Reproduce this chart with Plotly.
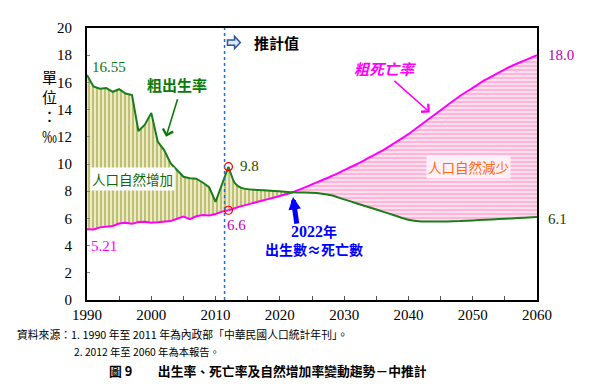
import plotly.graph_objects as go

# ---- data ----
hist_years = list(range(1990, 2013))
hist_birth = [16.55, 15.70, 15.53, 15.58, 15.31, 15.50, 15.18, 15.07, 12.43, 12.89, 13.76,
              11.65, 11.02, 10.06, 9.56, 9.06, 8.96, 8.92, 8.64, 8.29, 7.21, 8.48, 9.80]
hist_death = [5.21, 5.19, 5.34, 5.37, 5.44, 5.62, 5.68, 5.60, 5.73, 5.75, 5.68,
              5.71, 5.74, 5.80, 5.97, 6.13, 5.95, 6.16, 6.25, 6.21, 6.32, 6.50, 6.60]

proj_years = [2012, 2013, 2014, 2016, 2018, 2020, 2022, 2024, 2026, 2028, 2030, 2032, 2034,
              2036, 2038, 2040, 2042, 2044, 2046, 2048, 2050, 2052, 2054, 2056, 2058, 2060]
proj_birth = [9.80, 8.60, 8.25, 8.10, 8.05, 8.00, 7.92, 7.90, 7.85, 7.70, 7.40, 7.10, 6.80,
              6.50, 6.20, 5.90, 5.78, 5.77, 5.78, 5.80, 5.85, 5.90, 5.95, 6.00, 6.05, 6.10]
proj_death = [6.60, 6.75, 6.90, 7.15, 7.40, 7.65, 7.92, 8.30, 8.70, 9.10, 9.55, 10.00, 10.50,
              11.00, 11.60, 12.20, 12.90, 13.60, 14.30, 15.00, 15.60, 16.20, 16.70, 17.20, 17.60, 18.00]

x_ticks = [1990, 1995, 2000, 2005, 2010, 2015, 2020, 2025, 2030, 2035, 2040, 2045, 2050, 2055, 2060]
x_tick_text = ["1990", "", "2000", "", "2010", "", "2020", "", "2030", "", "2040", "", "2050", "", "2060"]
y_ticks = [0, 2, 4, 6, 8, 10, 12, 14, 16, 18, 20]

cross_year = 2022
split = proj_years.index(cross_year)

GREEN = "#1a7d1a"
MAGENTA = "#ff00ff"
SERIF = "Liberation Serif, Times New Roman, serif"
CJK = "Noto Sans CJK TC, sans-serif"

olive_pat = dict(shape="|", fgcolor="#7a7a00", bgcolor="#ececc4", size=4, solidity=0.4)
pink_pat = dict(shape="-", fgcolor="#ff7fc0", bgcolor="#ffe0ef", size=4, solidity=0.45)

fig = go.Figure()

# fills: natural increase (historical)
fig.add_trace(go.Scatter(x=hist_years, y=hist_death, mode="lines", line=dict(width=0),
                         hoverinfo="skip", showlegend=False))
fig.add_trace(go.Scatter(x=hist_years, y=hist_birth, mode="lines", line=dict(width=0),
                         fill="tonexty", fillpattern=olive_pat, hoverinfo="skip", showlegend=False))
# fills: natural increase (projection up to crossing)
fig.add_trace(go.Scatter(x=proj_years[:split + 1], y=proj_death[:split + 1], mode="lines",
                         line=dict(width=0, shape="spline", smoothing=0.6), hoverinfo="skip", showlegend=False))
fig.add_trace(go.Scatter(x=proj_years[:split + 1], y=proj_birth[:split + 1], mode="lines",
                         line=dict(width=0, shape="spline", smoothing=0.6), fill="tonexty",
                         fillpattern=olive_pat, hoverinfo="skip", showlegend=False))
# fills: natural decrease
fig.add_trace(go.Scatter(x=proj_years[split:], y=proj_birth[split:], mode="lines",
                         line=dict(width=0, shape="spline", smoothing=0.6), hoverinfo="skip", showlegend=False))
fig.add_trace(go.Scatter(x=proj_years[split:], y=proj_death[split:], mode="lines",
                         line=dict(width=0, shape="spline", smoothing=0.6), fill="tonexty",
                         fillpattern=pink_pat, hoverinfo="skip", showlegend=False))

# lines
fig.add_trace(go.Scatter(x=hist_years, y=hist_death, mode="lines",
                         line=dict(color=MAGENTA, width=2), showlegend=False))
fig.add_trace(go.Scatter(x=proj_years, y=proj_death, mode="lines",
                         line=dict(color=MAGENTA, width=2, shape="spline", smoothing=0.6), showlegend=False))
fig.add_trace(go.Scatter(x=hist_years, y=hist_birth, mode="lines",
                         line=dict(color=GREEN, width=2), showlegend=False))
fig.add_trace(go.Scatter(x=proj_years, y=proj_birth, mode="lines",
                         line=dict(color=GREEN, width=2, shape="spline", smoothing=0.6), showlegend=False))

# red circles at 2012
fig.add_trace(go.Scatter(x=[hist_years[-1], hist_years[-1]], y=[hist_birth[-1], hist_death[-1]],
                         mode="markers", marker=dict(symbol="circle-open", color="red", size=8, line=dict(width=1.2)),
                         showlegend=False))

# projection start dotted line
fig.add_shape(type="line", x0=2011.4, x1=2011.4, y0=0, y1=20, line=dict(color="#1f6fd0", width=1.5, dash="dot"))
# block arrow icon
fig.add_shape(type="path",
              path="M 2011.85,19.12 L 2012.95,19.12 L 2012.95,19.38 L 2013.85,18.93 L 2012.95,18.48 L 2012.95,18.74 L 2011.85,18.74 Z",
              fillcolor="#dce8f8", line=dict(color="#2f5597", width=1.5))

ann = []
def txt(x, y, t, color, size=15, family=SERIF, bold=False, italic=False, **kw):
    if bold:
        t = "<b>" + t + "</b>"
    if italic:
        t = "<i>" + t + "</i>"
    d = dict(x=x, y=y, text=t, showarrow=False, font=dict(color=color, size=size, family=family))
    d.update(kw)
    ann.append(d)

txt(2019.4, 18.93, "推計值", "black", size=15, family=CJK, bold=True)
txt(1993.4, 17.14, "16.55", "#0a7a0a", size=15)
txt(1992.7, 4.0, "5.21", MAGENTA, size=15)
txt(2015.2, 9.86, "9.8", "#2a4a10", size=15)
txt(2013.25, 5.5, "6.6", "#c000c0", size=15)
txt(2060, 18.0, "18.0", "#b800b8", size=15, xanchor="left", xshift=9)
txt(2060, 5.95, "6.1", "#1e3a00", size=15, xanchor="left", xshift=9)
txt(2004.0, 15.86, "粗出生率", "#0a7a0a", size=15, family=CJK, bold=True)
txt(2036.5, 17.0, "粗死亡率", MAGENTA, size=15, family=CJK, bold=True, italic=True)
txt(1997.0, 8.93, "人口自然增加", "#0a6a0a", size=13.5, family=CJK, bgcolor="white", borderpad=1)
txt(2049.4, 9.79, "人口自然減少", "#ff6a10", size=13.5, family=CJK, bgcolor="rgba(255,245,250,0.9)", borderpad=1)
txt(2025.3, 4.43,
    "<span style='font-family:Liberation Serif;font-size:16px'>2022</span>年<br>出生數≈死亡數",
    "#0000ff", size=14, family=CJK, bold=True)

# arrows
ann.append(dict(x=2002.29, y=12.0, ax=12, ay=-39, text="", showarrow=True, arrowhead=4,
                arrowsize=1.3, arrowwidth=1.6, arrowcolor="#0a7a0a"))
ann.append(dict(x=2043.34, y=13.79, ax=-37, ay=-33, text="", showarrow=True, arrowhead=4,
                arrowsize=1.3, arrowwidth=1.6, arrowcolor=MAGENTA))
ann.append(dict(x=2022.04, y=7.57, ax=4, ay=28, text="", showarrow=True, arrowhead=2,
                arrowsize=0.5, arrowwidth=5, arrowcolor="#0000ff"))

# axis-related labels
ann.append(dict(xref="paper", yref="y", x=-0.104, y=14.3, text="單<br>位<br>：<br>‰", showarrow=False,
                font=dict(size=15, family=CJK, color="black")))
ann.append(dict(xref="paper", yref="y", x=1.058, y=-1.07, text="年", showarrow=False,
                font=dict(size=15, family=CJK, color="black")))

# footer
ann.append(dict(xref="paper", yref="paper", x=-0.16, y=-0.125, xanchor="left", yanchor="middle",
                text="資料來源：1. 1990 年至 2011 年為內政部「中華民國人口統計年刊」。", showarrow=False,
                font=dict(size=10.8, family=CJK, color="black")))
ann.append(dict(xref="paper", yref="paper", x=-0.034, y=-0.189, xanchor="left", yanchor="middle",
                text="2. 2012 年至 2060 年為本報告。", showarrow=False,
                font=dict(size=10.3, family=CJK, color="black")))
ann.append(dict(xref="paper", yref="paper", x=0.045, y=-0.261, xanchor="left", yanchor="middle",
                text="<b>圖 9　　出生率、死亡率及自然增加率變動趨勢－中推計</b>", showarrow=False,
                font=dict(size=12.8, family=CJK, color="black")))

# page body has an 8px default margin, so the figure is 8px smaller and offsets compensated
fig.update_layout(
    width=592, height=381,
    margin=dict(l=79, r=63, t=12, b=89),
    plot_bgcolor="white", paper_bgcolor="white",
    annotations=ann,
    xaxis=dict(range=[1990, 2060], tickvals=x_ticks, ticktext=x_tick_text, ticks="inside", ticklen=4,
               tickcolor="#555", showline=True, linecolor="black", linewidth=2, mirror=True,
               showgrid=False, zeroline=False, tickfont=dict(family=SERIF, size=15, color="black")),
    yaxis=dict(range=[0, 20], tickvals=y_ticks, ticks="inside", ticklen=3, tickcolor="#888",
               showline=True, linecolor="black", linewidth=2, mirror=True, showgrid=False,
               zeroline=False, ticklabelstandoff=10, tickfont=dict(family=SERIF, size=15, color="black")),
)

fig.write_html("out.html")
